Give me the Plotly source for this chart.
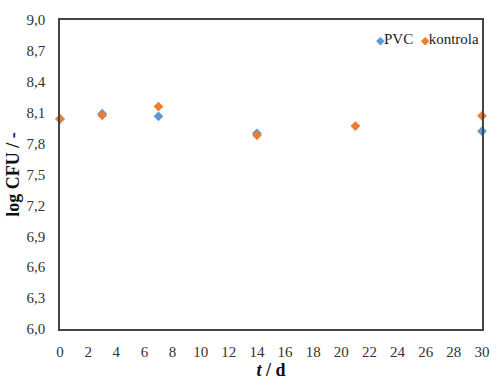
import plotly.graph_objects as go

# Data
days_pvc = [0, 3, 7, 14, 30]
cfu_pvc = [8.04, 8.09, 8.065, 7.90, 7.92]

days_kontrola = [0, 3, 7, 14, 21, 30]
cfu_kontrola = [8.04, 8.075, 8.16, 7.88, 7.97, 8.07]

x_ticks = list(range(0, 31, 2))
y_ticks = [6.0, 6.3, 6.6, 6.9, 7.2, 7.5, 7.8, 8.1, 8.4, 8.7, 9.0]

SERIF = "Liberation Serif, Times New Roman, serif"
PVC_COLOR = "#5B9BD5"
KONTROLA_COLOR = "#ED7D31"

fig = go.Figure()

fig.add_trace(go.Scatter(
    x=days_pvc, y=cfu_pvc, mode="markers", name="PVC",
    marker=dict(symbol="diamond", size=7.5, color=PVC_COLOR),
    cliponaxis=False, showlegend=False,
))
fig.add_trace(go.Scatter(
    x=days_kontrola, y=cfu_kontrola, mode="markers", name="kontrola",
    marker=dict(symbol="diamond", size=7.5, color=KONTROLA_COLOR),
    cliponaxis=False, showlegend=False,
))

# Compact Excel-like legend drawn as text
fig.add_annotation(
    xref="paper", yref="paper", x=0.997, y=0.94, xanchor="right", yanchor="middle",
    showarrow=False,
    text=(f"<span style='color:{PVC_COLOR};font-size:11px'>◆</span>PVC&nbsp;&nbsp;"
          f"<span style='color:{KONTROLA_COLOR};font-size:11px'>◆</span>kontrola"),
    font=dict(family=SERIF, size=15, color="#222"),
)

fig.update_layout(
    width=500, height=387,
    margin=dict(l=60, r=10, t=20, b=58),
    plot_bgcolor="white", paper_bgcolor="white",
    separators=",.",
    font=dict(family=SERIF, size=15, color="#333"),
    showlegend=False,
    xaxis=dict(
        range=[0, 30], tickvals=x_ticks, showgrid=False, zeroline=False,
        showline=True, linecolor="#444", linewidth=1.5, mirror=True,
        ticks="", ticklabelstandoff=8,
        title=dict(text="<b><i>t</i> / d</b>", font=dict(family=SERIF, size=18, color="#111"),
                   standoff=4),
    ),
    yaxis=dict(
        range=[6.0, 9.0], tickvals=y_ticks, tickformat=".1f", showgrid=False, zeroline=False,
        showline=True, linecolor="#444", linewidth=1.5, mirror=True,
        ticks="", ticklabelstandoff=10,
        title=dict(text="<b>log CFU / -</b>", font=dict(family=SERIF, size=18, color="#111"),
                   standoff=2),
    ),
)

fig.write_html("out.html", config={"displayModeBar": False},
               post_script="document.body.style.margin='0';")
